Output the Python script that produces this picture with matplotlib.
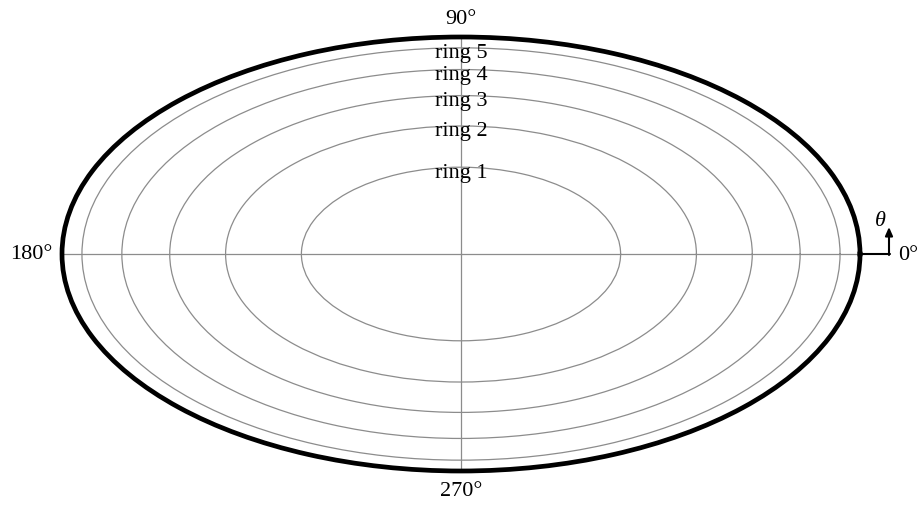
import numpy as np
import matplotlib
matplotlib.use("Agg")
import matplotlib.pyplot as plt
from matplotlib.transforms import offset_copy

plt.rcParams['font.family'] = ['Liberation Serif', 'DejaVu Serif']

ring_names = ["ring 1", "ring 2", "ring 3", "ring 4", "ring 5"]
ring_r = [0.40, 0.59, 0.73, 0.85, 0.95]
theta_ticks = [0, 90, 180, 270]
theta_labels = ["0°", "90°", "180°", "270°"]

fig = plt.figure(figsize=(9.19, 5.06), dpi=100)
ax = fig.add_axes([62/919, 34/506, 798/919, 434/506], projection='polar')
ax.set_aspect('auto')
ax.set_ylim(0, 1)

ax.set_rgrids(ring_r, labels=[""] * len(ring_r))
ax.set_thetagrids(theta_ticks, labels=[""] * len(theta_ticks))
ax.grid(True, color="#8c8c8c", linewidth=0.9)
ax.spines['polar'].set_linewidth(3.4)
ax.spines['polar'].set_color('black')
ax.tick_params(length=0)

fs = 16
for name, r in zip(ring_names, ring_r):
    ax.annotate(name, xy=(np.pi/2, r), xytext=(0, -5),
                textcoords='offset pixels', ha='center', va='center',
                fontsize=fs, color='black')

offsets = {0: (38, 0, 'left', 'center'), 90: (0, 9, 'center', 'bottom'),
           180: (-10, 0, 'right', 'center'), 270: (0, -10, 'center', 'top')}
for t, lab in zip(theta_ticks, theta_labels):
    dx, dy, ha, va = offsets[t]
    ax.annotate(lab, xy=(np.deg2rad(t), 1.0), xytext=(dx, dy),
                textcoords='offset pixels', ha=ha, va=va, fontsize=fs,
                annotation_clip=False)

# theta direction indicator: horizontal stub then upward arrow
ax.annotate("", xy=(0, 1.0), xytext=(30, 0), textcoords='offset pixels',
            arrowprops=dict(arrowstyle='-', color='black', lw=1.5,
                            shrinkA=0, shrinkB=0), annotation_clip=False)
tr_a = offset_copy(ax.transData, fig=fig, x=29, y=-1, units='dots')
tr_b = offset_copy(ax.transData, fig=fig, x=29, y=27, units='dots')
p0 = tr_a.transform((0, 1.0))
p1 = tr_b.transform((0, 1.0))
ax.annotate("", xy=p1, xytext=p0, xycoords='figure pixels',
            textcoords='figure pixels',
            arrowprops=dict(arrowstyle='-|>,head_length=0.5,head_width=0.22',
                            color='black', lw=1.5, shrinkA=0, shrinkB=0),
            annotation_clip=False)
ax.annotate("θ", xy=(0, 1.0), xytext=(20, 24), textcoords='offset pixels',
            ha='center', va='bottom', fontsize=fs, fontstyle='italic',
            annotation_clip=False)

fig.savefig("out.png", dpi=100)
